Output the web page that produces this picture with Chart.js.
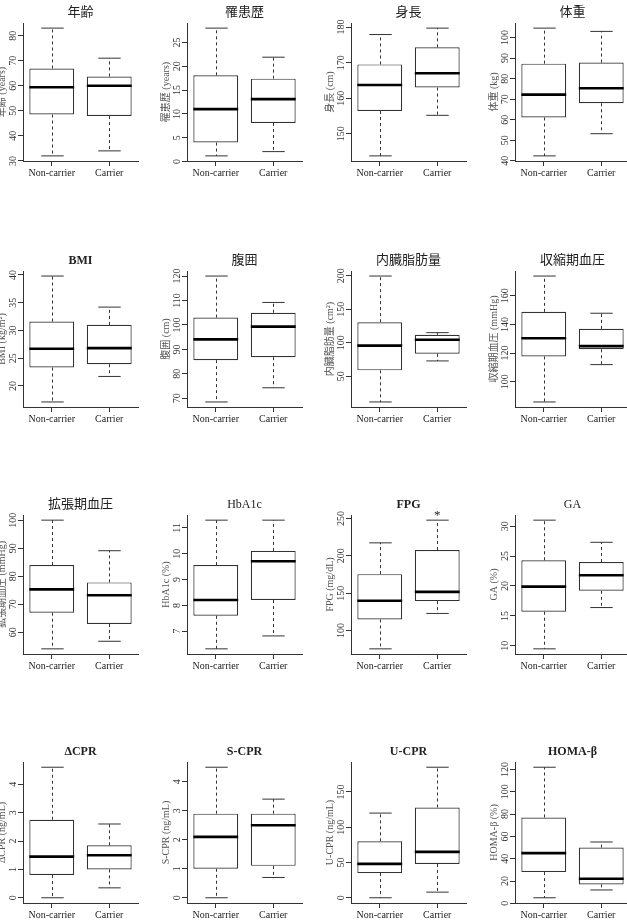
<!DOCTYPE html>
<html lang="ja">
<head>
<meta charset="UTF-8">
<title>Boxplots</title>
<script src="https://cdn.jsdelivr.net/npm/chart.js"></script>
<style>
  html, body { margin: 0; padding: 0; background: #fff; overflow: hidden; width: 627px; height: 923px; }
  canvas { position: absolute; }
</style>
</head>
<body>
<script>
// ---- data ----
const groups = ['Non-carrier', 'Carrier'];

const titles = ['年齢', '罹患歴', '身長', '体重',
                'BMI', '腹囲', '内臓脂肪量', '収縮期血圧',
                '拡張期血圧', 'HbA1c', 'FPG', 'GA',
                'ΔCPR', 'S-CPR', 'U-CPR', 'HOMA-β'];
const boldTitles = ['BMI', 'FPG', 'ΔCPR', 'S-CPR', 'U-CPR', 'HOMA-β'];

const yLabels = ['年齢 (years)', '罹患歴 (years)', '身長 (cm)', '体重 (kg)',
                 'BMI (kg/m²)', '腹囲 (cm)', '内臓脂肪量 (cm²)', '収縮期血圧 (mmHg)',
                 '拡張期血圧 (mmHg)', 'HbA1c (%)', 'FPG (mg/dL)', 'GA (%)',
                 'ΔCPR (ng/mL)', 'S-CPR (ng/mL)', 'U-CPR (ng/mL)', 'HOMA-β (%)'];

const yTicks = [
  [30, 40, 50, 60, 70, 80], [0, 5, 10, 15, 20, 25], [150, 160, 170, 180], [40, 50, 60, 70, 80, 90, 100],
  [20, 25, 30, 35, 40], [70, 80, 90, 100, 110, 120], [50, 100, 150, 200], [100, 120, 140, 160],
  [60, 70, 80, 90, 100], [7, 8, 9, 10, 11], [100, 150, 200, 250], [10, 15, 20, 25, 30],
  [0, 1, 2, 3, 4], [0, 1, 2, 3, 4], [0, 50, 100, 150], [0, 20, 40, 60, 80, 100, 120]
];

// [Non-carrier, Carrier]
const whiskerLow = [
  [32, 34], [1.2, 2.1], [143.8, 155.2], [42.4, 53.2],
  [17.1, 21.7], [68.5, 74.3], [11.9, 73], [85.8, 111.9],
  [54.1, 56.8], [6.32, 6.82], [75.4, 122.8], [9.5, 16.4],
  [0, 0.35], [0, 0.7], [0, 8], [5, 12]
];
const q1 = [
  [48.5, 47.9], [4, 8.1], [156.4, 163], [61.1, 68],
  [23.3, 23.9], [85.6, 86.8], [59, 83.7], [117.6, 122.6],
  [67, 63], [7.6, 8.21], [114.8, 139.3], [15.7, 19.2],
  [0.8, 1.0], [1.0, 1.1], [35, 48], [28, 17]
];
const medians = [
  [59.4, 60], [11, 13.1], [163.7, 167], [72.2, 75.3],
  [26.7, 26.8], [94.1, 99.3], [95.8, 104.5], [130.3, 124.8],
  [75.3, 73.2], [8.21, 9.71], [139.7, 151.7], [19.9, 21.8],
  [1.45, 1.5], [2.1, 2.5], [48, 65], [45, 22]
];
const q3 = [
  [66.9, 63.7], [18.1, 17.4], [169.5, 174.3], [87.3, 87.8],
  [31.6, 31], [103, 105], [130.7, 111.8], [148.8, 136.9],
  [84, 77.8], [9.56, 10.11], [175.4, 207.6], [24.3, 24],
  [2.75, 1.85], [2.9, 2.9], [80, 128], [77, 50]
];
const whiskerHigh = [
  [83, 71], [28, 21.9], [177.9, 179.7], [104.6, 103],
  [39.8, 34.2], [120, 109.2], [199.4, 115.1], [173.8, 147.8],
  [100, 89.1], [11.3, 11.3], [217.3, 247.7], [31, 27.3],
  [4.6, 2.6], [4.5, 3.4], [120, 185], [122, 55]
];
// significance marks above whiskers
const sigMarks = { 10: [null, '*'] };

// ---- layout of the 4x4 grid ----
const rowTop = [23, 271, 515, 762];
const rowBottom = [161, 407, 654, 903];
const colLeft = [23, 187, 351, 515];
const plotW = 115;
const padTop = 28, yAxisW = 50, xAxisH = 22, padRight = 5;

const serif = "'Liberation Serif', 'Noto Sans CJK JP', serif";
const lineCol = '#333';

const boxExtras = {
  id: 'boxExtras',
  afterDatasetsDraw(chart) {
    const i = chart.options.plugins.boxExtras.index;
    const ctx = chart.ctx;
    const y = chart.scales.y;
    const meta = chart.getDatasetMeta(0);
    const seg = (x1, y1, x2, y2) => { ctx.beginPath(); ctx.moveTo(x1, y1); ctx.lineTo(x2, y2); ctx.stroke(); };
    ctx.save();
    meta.data.forEach((bar, g) => {
      const x = Math.round(bar.x) + 0.5;
      const half = bar.width / 2;
      const yLo = y.getPixelForValue(whiskerLow[i][g]);
      const yQ1 = y.getPixelForValue(q1[i][g]);
      const yMed = y.getPixelForValue(medians[i][g]);
      const yQ3 = y.getPixelForValue(q3[i][g]);
      const yHi = y.getPixelForValue(whiskerHigh[i][g]);
      ctx.strokeStyle = lineCol;
      ctx.lineWidth = 1;
      ctx.setLineDash([3, 3]);
      seg(x, yQ3, x, yHi);
      seg(x, yQ1, x, yLo);
      ctx.setLineDash([]);
      seg(x - half / 2, yHi, x + half / 2, yHi);
      seg(x - half / 2, yLo, x + half / 2, yLo);
      ctx.strokeStyle = '#000';
      ctx.lineWidth = 2.6;
      seg(bar.x - half, yMed, bar.x + half, yMed);
      const mark = sigMarks[i] && sigMarks[i][g];
      if (mark) {
        ctx.fillStyle = '#222';
        ctx.font = '13px ' + serif;
        ctx.textAlign = 'center';
        ctx.textBaseline = 'alphabetic';
        ctx.fillText(mark, bar.x, yHi - 1);
      }
    });
    ctx.restore();
  },
  afterDraw(chart) {
    const i = chart.options.plugins.boxExtras.index;
    const ctx = chart.ctx;
    const y = chart.scales.y;
    const area = chart.chartArea;
    ctx.save();
    // title
    const latin = /^[\x00-\x7FΔβ-]+$/.test(titles[i]);
    const bold = boldTitles.includes(titles[i]);
    ctx.fillStyle = '#222';
    ctx.font = (bold ? 'bold 12px ' : latin ? '12px ' : '13px ') + serif;
    ctx.textAlign = 'center';
    ctx.textBaseline = 'middle';
    ctx.fillText(titles[i], (area.left + area.right) / 2, area.top - 10);
    // y tick labels, rotated like R
    ctx.font = '10px ' + serif;
    ctx.fillStyle = '#333';
    y.ticks.forEach(t => {
      const py = y.getPixelForValue(t.value);
      ctx.save();
      ctx.translate(area.left - 10, py);
      ctx.rotate(-Math.PI / 2);
      ctx.fillText(String(t.value), 0, 0);
      ctx.restore();
    });
    // y axis title
    ctx.fillStyle = '#555';
    ctx.save();
    ctx.translate(area.left - 21, (area.top + area.bottom) / 2);
    ctx.rotate(-Math.PI / 2);
    ctx.fillText(yLabels[i], 0, 0);
    ctx.restore();
    ctx.restore();
  }
};

titles.forEach((title, i) => {
  const r = Math.floor(i / 4), c = i % 4;
  const canvas = document.createElement('canvas');
  const w = yAxisW + plotW + padRight;
  const h = padTop + (rowBottom[r] - rowTop[r]) + xAxisH;
  canvas.width = w;
  canvas.height = h;
  canvas.style.left = (colLeft[c] - yAxisW) + 'px';
  canvas.style.top = (rowTop[r] - padTop) + 'px';
  canvas.style.width = w + 'px';
  canvas.style.height = h + 'px';
  document.body.appendChild(canvas);

  const lo = Math.min(...whiskerLow[i]);
  const hi = Math.max(...whiskerHigh[i]);
  const pad = (hi - lo) * 0.04;

  new Chart(canvas.getContext('2d'), {
    type: 'bar',
    data: {
      labels: groups,
      datasets: [{
        data: groups.map((g, k) => [q1[i][k], q3[i][k]]),
        backgroundColor: '#ffffff',
        borderColor: lineCol,
        borderWidth: 1.2,
        borderSkipped: false,
        barPercentage: 0.78,
        categoryPercentage: 1.0
      }]
    },
    options: {
      responsive: false,
      animation: false,
      devicePixelRatio: 1,
      layout: { padding: { top: padTop, right: padRight, left: 0, bottom: 0 } },
      plugins: {
        legend: { display: false },
        title: { display: false },
        tooltip: { enabled: false },
        boxExtras: { index: i }
      },
      scales: {
        x: {
          type: 'category',
          offset: true,
          grid: { offset: false, drawOnChartArea: false, drawTicks: true, tickLength: 5, color: lineCol },
          border: { display: true, color: lineCol, width: 1 },
          ticks: { color: '#222', font: { family: serif, size: 10 }, padding: 1, maxRotation: 0 },
          afterFit: s => { s.height = xAxisH; }
        },
        y: {
          type: 'linear',
          min: lo - pad,
          max: hi + pad,
          afterBuildTicks: s => { s.ticks = yTicks[i].map(v => ({ value: v })); },
          grid: { drawOnChartArea: false, drawTicks: true, tickLength: 5, color: lineCol },
          border: { display: true, color: lineCol, width: 1 },
          ticks: { display: false },
          afterFit: s => { s.width = yAxisW; }
        }
      }
    },
    plugins: [boxExtras]
  });
});
</script>
</body>
</html>
